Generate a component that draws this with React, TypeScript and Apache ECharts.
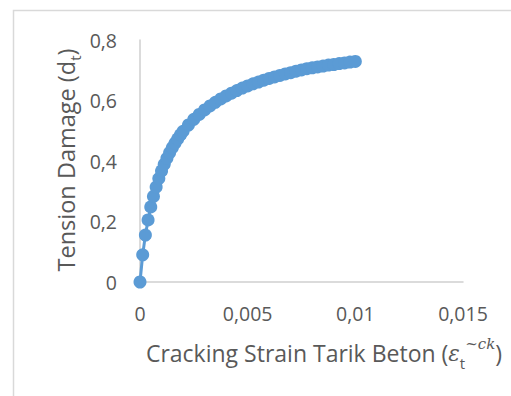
import React, { useEffect, useRef } from "react";
import * as echarts from "echarts";

const strainValues = [
  0, 0.000125, 0.00025, 0.000375, 0.0005, 0.000625, 0.00075, 0.000875, 0.001,
  0.001125, 0.00125, 0.001375, 0.0015, 0.001625, 0.00175, 0.001875, 0.002,
  0.00225, 0.0025, 0.00275, 0.003, 0.00325, 0.0035, 0.00375, 0.004, 0.00425,
  0.0045, 0.00475, 0.005, 0.00525, 0.0055, 0.00575, 0.006, 0.00625, 0.0065,
  0.00675, 0.007, 0.00725, 0.0075, 0.00775, 0.008, 0.00825, 0.0085, 0.00875,
  0.009, 0.00925, 0.0095, 0.00975, 0.01,
];
const damageValues = [
  0, 0.09, 0.155, 0.205, 0.248, 0.283, 0.314, 0.342, 0.367,
  0.389, 0.409, 0.427, 0.444, 0.459, 0.473, 0.486, 0.498,
  0.519, 0.538, 0.554, 0.569, 0.582, 0.594, 0.605, 0.615, 0.624,
  0.633, 0.641, 0.648, 0.655, 0.661, 0.667, 0.673, 0.678, 0.683,
  0.688, 0.692, 0.697, 0.701, 0.705, 0.708, 0.711, 0.714, 0.717,
  0.719, 0.722, 0.724, 0.727, 0.729,
];
const xTickLabels = ["0", "0,005", "0,01", "0,015"];
const yTickLabels = ["0", "0,2", "0,4", "0,6", "0,8"];

const FONT = "'Open Sans', sans-serif";
const TEXT_COLOR = "#595959";
const AXIS_COLOR = "#cfcfcf";
const SERIES_COLOR = "#5B9BD5";

export default function App() {
  const ref = useRef<HTMLDivElement>(null);
  useEffect(() => {
    if (!ref.current) return;
    const chart = echarts.init(ref.current, undefined, { renderer: "svg" });
    const data = strainValues.map((x, i) => [x, damageValues[i]]);
    chart.setOption({
      animation: false,
      backgroundColor: "#ffffff",
      grid: { left: 140, right: 48, top: 40, bottom: 114 },
      xAxis: {
        type: "value",
        min: 0,
        max: 0.015,
        interval: 0.005,
        splitLine: { show: false },
        axisTick: { show: false },
        axisLine: { show: true, onZero: false, lineStyle: { color: AXIS_COLOR, width: 1.5 } },
        axisLabel: {
          margin: 21,
          color: TEXT_COLOR,
          fontFamily: FONT,
          fontSize: 19.5,
          formatter: (v: number) => xTickLabels[Math.round(v / 0.005)] ?? "",
        },
      },
      yAxis: {
        type: "value",
        min: 0,
        max: 0.8,
        interval: 0.2,
        splitLine: { show: false },
        axisTick: { show: false },
        axisLine: { show: true, onZero: false, lineStyle: { color: AXIS_COLOR, width: 1.5 } },
        axisLabel: {
          margin: 23,
          color: TEXT_COLOR,
          fontFamily: FONT,
          fontSize: 19.5,
          formatter: (v: number) => yTickLabels[Math.round(v / 0.2)] ?? "",
        },
      },
      series: [
        {
          type: "line",
          data,
          symbol: "circle",
          symbolSize: 13,
          showAllSymbol: true,
          clip: false,
          lineStyle: { color: SERIES_COLOR, width: 3 },
          itemStyle: { color: SERIES_COLOR },
        },
      ],
      graphic: [
        {
          type: "rect",
          shape: { x: 13.5, y: 10.5, width: 700, height: 600 },
          style: { fill: "none", stroke: "#d9d9d9", lineWidth: 1.5 },
          silent: true,
        },
        {
          type: "text",
          x: 66,
          y: 160,
          rotation: Math.PI / 2,
          style: {
            text: "{a|Tension Damage (d}{s|t}{a|)}",
            align: "center",
            verticalAlign: "middle",
            fill: TEXT_COLOR,
            rich: {
              a: { fontFamily: FONT, fontSize: 23.5, lineHeight: 32, fill: TEXT_COLOR },
              s: { fontFamily: FONT, fontSize: 15, lineHeight: 22, verticalAlign: "bottom", fill: TEXT_COLOR },
            },
          },
        },
        {
          type: "text",
          x: 324,
          y: 353,
          style: {
            text: "{a|Cracking Strain Tarik Beton (}{e|ε}{s|t}{p|~ck}{a|)}",
            align: "center",
            verticalAlign: "middle",
            fill: TEXT_COLOR,
            rich: {
              a: { fontFamily: FONT, fontSize: 23, lineHeight: 34, fill: TEXT_COLOR },
              e: { fontFamily: "'DejaVu Serif', serif", fontStyle: "italic", fontSize: 21.5, lineHeight: 34, fill: TEXT_COLOR },
              s: { fontFamily: FONT, fontSize: 15, lineHeight: 20, verticalAlign: "bottom", fill: TEXT_COLOR },
              p: { fontFamily: "'DejaVu Serif', serif", fontStyle: "italic", fontSize: 15, lineHeight: 22, verticalAlign: "top", fill: TEXT_COLOR },
            },
          },
        },
      ],
    });
    return () => chart.dispose();
  }, []);
  return (
    <div
      ref={ref}
      style={{ position: "fixed", left: 0, top: 0, width: 511, height: 396, background: "#fff" }}
    />
  );
}
